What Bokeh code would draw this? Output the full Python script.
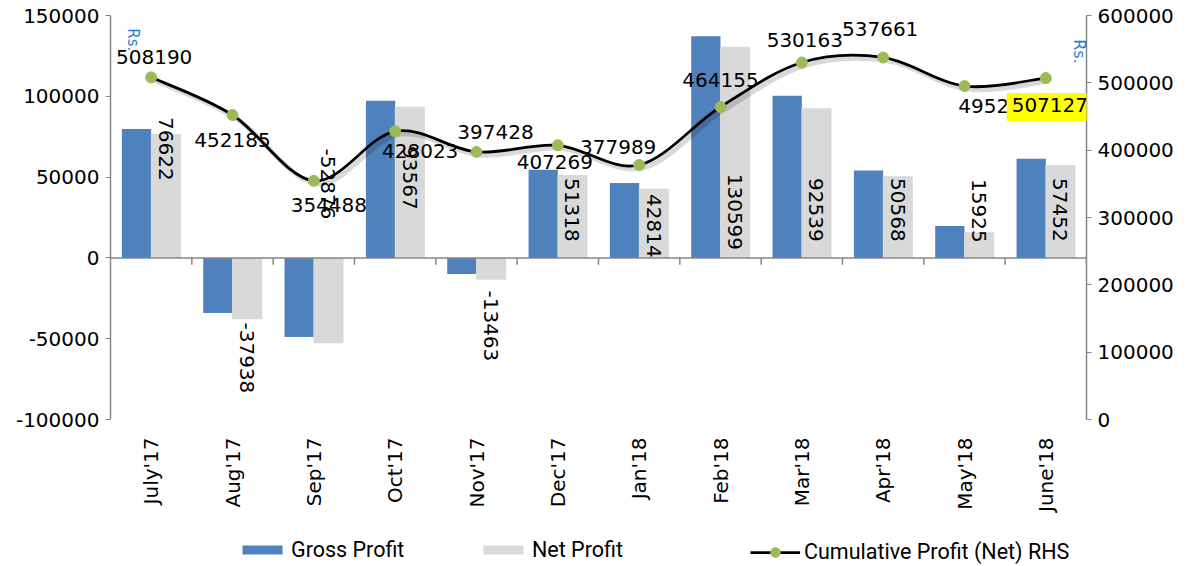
import math
from bokeh.plotting import figure
from bokeh.layouts import column
from bokeh.models import (Range1d, LinearAxis, ColumnDataSource, LabelSet, Label, Span,
                          Legend, LegendItem, FixedTicker, FactorRange, NumeralTickFormatter)
from bokeh.core.properties import value
from bokeh.transform import dodge
from bokeh.embed import file_html
from bokeh.resources import INLINE

# ---------------- data ----------------
months = ["July'17", "Aug'17", "Sep'17", "Oct'17", "Nov'17", "Dec'17",
          "Jan'18", "Feb'18", "Mar'18", "Apr'18", "May'18", "June'18"]
gross_profit = [79700, -34100, -49000, 97300, -9900, 54500,
                46300, 137100, 100400, 54100, 19800, 61300]
net_profit = [76622, -37938, -52876, 93567, -13463, 51318,
              42814, 130599, 92539, 50568, 15925, 57452]
cumulative_net = [508190, 452185, 354488, 428023, 397428, 407269,
                  377989, 464155, 530163, 537661, 495216, 507127]
left_ticks = [-100000, -50000, 0, 50000, 100000, 150000]
right_ticks = [0, 100000, 200000, 300000, 400000, 500000, 600000]
series_names = ["Gross Profit", "Net Profit", "Cumulative Profit (Net) RHS"]

# ---------------- style ----------------
FONT = "DejaVu Sans"
LEG_FONT = "Roboto"
BLUE = "#4F81BD"
GREY = "#D9D9D9"
GREEN = "#9BBB59"
AXIS = "#868686"
RS_BLUE = "#1F7FD0"
# label placement (pixels; positive = up)
net_lbl_dy = [109, -100, 74, 80, -68, 48, 32, 46, 48, 48, 47, 48]
cum_lbl_dx = [3, 0, 15, 25, 19, -3, -21, 0, 3, -3, 32, 6]
cum_lbl_dy = [20, -25, -24, -20, 20, -17, 18, 27, 23, 28, -20, -29]

n = len(months)

p = figure(width=1189, height=530, x_range=FactorRange(factors=months),
           y_range=Range1d(-100000, 150000), output_backend="svg", toolbar_location=None,
           min_border_left=110, min_border_right=103, min_border_top=15, min_border_bottom=111)
p.extra_y_ranges = {"rhs": Range1d(0, 600000)}
p.outline_line_color = None
p.xgrid.visible = False
p.ygrid.visible = False
p.background_fill_color = "white"
p.border_fill_color = "white"

# x axis (labels only)
xa = p.xaxis[0]
xa.axis_line_color = None
xa.major_tick_line_color = None
xa.minor_tick_line_color = None
xa.major_label_orientation = math.pi / 2
xa.major_label_standoff = 12
xa.major_label_text_font = FONT
xa.major_label_text_font_size = "20px"
xa.major_label_text_color = "black"

ya = p.yaxis[0]
ya.ticker = FixedTicker(ticks=left_ticks)
ya.formatter = NumeralTickFormatter(format="0")
ya.axis_line_color = AXIS
ya.axis_line_width = 1.5
ya.major_tick_line_color = AXIS
ya.major_tick_out = 5
ya.major_tick_in = 0
ya.minor_tick_line_color = None
ya.major_label_standoff = 6
ya.major_label_text_font = FONT
ya.major_label_text_font_size = "20px"
ya.major_label_text_color = "black"

ra = LinearAxis(y_range_name="rhs", ticker=FixedTicker(ticks=right_ticks),
                formatter=NumeralTickFormatter(format="0"))
ra.axis_line_color = AXIS
ra.axis_line_width = 1.5
ra.major_tick_line_color = AXIS
ra.major_tick_out = 5
ra.major_tick_in = 0
ra.minor_tick_line_color = None
ra.major_label_standoff = 6
ra.major_label_text_font = FONT
ra.major_label_text_font_size = "20px"
ra.major_label_text_color = "black"
p.add_layout(ra, "right")

src = ColumnDataSource(dict(
    month=months, gross=gross_profit, net=net_profit, cum=cumulative_net,
    net_lbl=[str(v) for v in net_profit], net_dy=net_lbl_dy,
    zero=[0] * n,
))

p.vbar(x=dodge("month", -0.18, range=p.x_range), top="gross", bottom=0, width=0.36,
       fill_color=BLUE, line_color=None, source=src)
p.vbar(x=dodge("month", 0.18, range=p.x_range), top="net", bottom=0, width=0.37,
       fill_color=GREY, line_color=None, source=src)

# zero (category) axis line with boundary ticks (synthetic category coordinates)
p.add_layout(Span(location=0, dimension="width", line_color=AXIS, line_width=1.5))
bounds = [float(b) for b in range(1, n + 1)]
p.segment(x0=bounds, y0=[0] * n, x1=bounds, y1=[-4300] * n,
          line_color=AXIS, line_width=1.5)

# smoothed cumulative line (Catmull-Rom -> cubic Bezier) in synthetic x coordinates
xs = [i + 0.5 for i in range(n)]
pts = list(zip(xs, cumulative_net))
def pt(i):
    return pts[min(max(i, 0), n - 1)]
bx0, by0, bx1, by1, bcx0, bcy0, bcx1, bcy1 = [], [], [], [], [], [], [], []
for i in range(n - 1):
    q0, q1, q2, q3 = pt(i - 1), pt(i), pt(i + 1), pt(i + 2)
    bx0.append(q1[0]); by0.append(q1[1]); bx1.append(q2[0]); by1.append(q2[1])
    bcx0.append(q1[0] + (q2[0] - q0[0]) / 6); bcy0.append(q1[1] + (q2[1] - q0[1]) / 6)
    bcx1.append(q2[0] - (q3[0] - q1[0]) / 6); bcy1.append(q2[1] - (q3[1] - q1[1]) / 6)

sdx, sdy = 0.04, -4500
p.bezier(x0=[v + sdx for v in bx0], y0=[v + sdy for v in by0], x1=[v + sdx for v in bx1],
         y1=[v + sdy for v in by1], cx0=[v + sdx for v in bcx0], cy0=[v + sdy for v in bcy0],
         cx1=[v + sdx for v in bcx1], cy1=[v + sdy for v in bcy1],
         y_range_name="rhs", line_color="black", line_alpha=0.15, line_width=5)
p.bezier(x0=bx0, y0=by0, x1=bx1, y1=by1, cx0=bcx0, cy0=bcy0, cx1=bcx1, cy1=bcy1,
         y_range_name="rhs", line_color="black", line_width=2.75)
p.scatter(x="month", y="cum", y_range_name="rhs", size=11, fill_color=GREEN,
          line_color=GREEN, source=src)

# net labels (rotated)
p.add_layout(LabelSet(x=dodge("month", 0.18, range=p.x_range), y="zero", text="net_lbl",
                      y_offset="net_dy", angle=-math.pi / 2, text_align="center",
                      text_baseline="middle", text_font=value(FONT), text_font_size="20px",
                      text_color="black", source=src))

# cumulative labels
csrc = ColumnDataSource(dict(month=months[:-1], cum=cumulative_net[:-1],
                             lbl=[str(v) for v in cumulative_net[:-1]],
                             dx=cum_lbl_dx[:-1], dy=cum_lbl_dy[:-1]))
p.add_layout(LabelSet(x="month", y="cum", y_range_name="rhs", text="lbl", x_offset="dx",
                      y_offset="dy", text_align="center", text_baseline="middle",
                      text_font=value(FONT), text_font_size="20px", text_color="black",
                      source=csrc))
p.add_layout(Label(x=n - 0.5, y=cumulative_net[-1], y_range_name="rhs",
                   text=str(cumulative_net[-1]), x_offset=cum_lbl_dx[-1], y_offset=cum_lbl_dy[-1],
                   text_align="center", text_baseline="middle", text_font=FONT,
                   text_font_size="20px", text_color="black", background_fill_color="#FFFF00",
                   padding=(5, 9, 5, 9)))

# "Rs." unit labels
p.add_layout(Label(x=0.28, y=135000, text="Rs.", angle=-math.pi / 2,
                   text_align="center", text_baseline="middle", text_font=FONT,
                   text_font_size="15px", text_color=RS_BLUE))
p.add_layout(Label(x=11.92, y=546500, y_range_name="rhs", text="Rs.",
                   angle=-math.pi / 2, text_align="center", text_baseline="middle",
                   text_font=FONT, text_font_size="16px", text_color=RS_BLUE))

# ---------------- legend strip (separate figure below) ----------------
lg = figure(width=1189, height=36, x_range=Range1d(0, 1189), y_range=Range1d(0, 36),
            output_backend="svg", toolbar_location=None, x_axis_type=None, y_axis_type=None,
            min_border_left=0, min_border_right=0, min_border_top=0, min_border_bottom=0)
lg.outline_line_color = None
lg.xgrid.visible = False
lg.ygrid.visible = False
hidden_x, hidden_y = [-100, -90], [-100, -90]   # swatch sources kept outside the view
l_gross = lg.vbar(x=hidden_x, top=hidden_y, width=1, fill_color=BLUE, line_color=None)
l_net = lg.vbar(x=hidden_x, top=hidden_y, width=1, fill_color=GREY, line_color=None)
l_line = lg.line(x=hidden_x, y=hidden_y, line_color="black", line_width=2.75)
l_dot = lg.scatter(x=hidden_x, y=hidden_y, size=11, fill_color=GREEN, line_color=GREEN)

def add_leg(label, renderers, loc, gh):
    leg = Legend(items=[LegendItem(label=label, renderers=renderers)], location=loc,
                 orientation="horizontal", glyph_width=50, glyph_height=gh, label_standoff=4,
                 padding=0, margin=0, border_line_color=None, background_fill_alpha=0,
                 label_text_font=LEG_FONT, label_text_font_size="21.5px",
                 label_text_color="black", label_height=20, spacing=0)
    lg.add_layout(leg)

# legend strip frame is aligned with the main frame (starts at x=110)
add_leg(series_names[0], [l_gross], (127, 4), 11)
add_leg(series_names[1], [l_net], (368, 4), 11)
add_leg(series_names[2], [l_line, l_dot], (640, 2), 24)

layout = column(p, lg, spacing=0)
open("out.html", "w").write(file_html(layout, INLINE))
